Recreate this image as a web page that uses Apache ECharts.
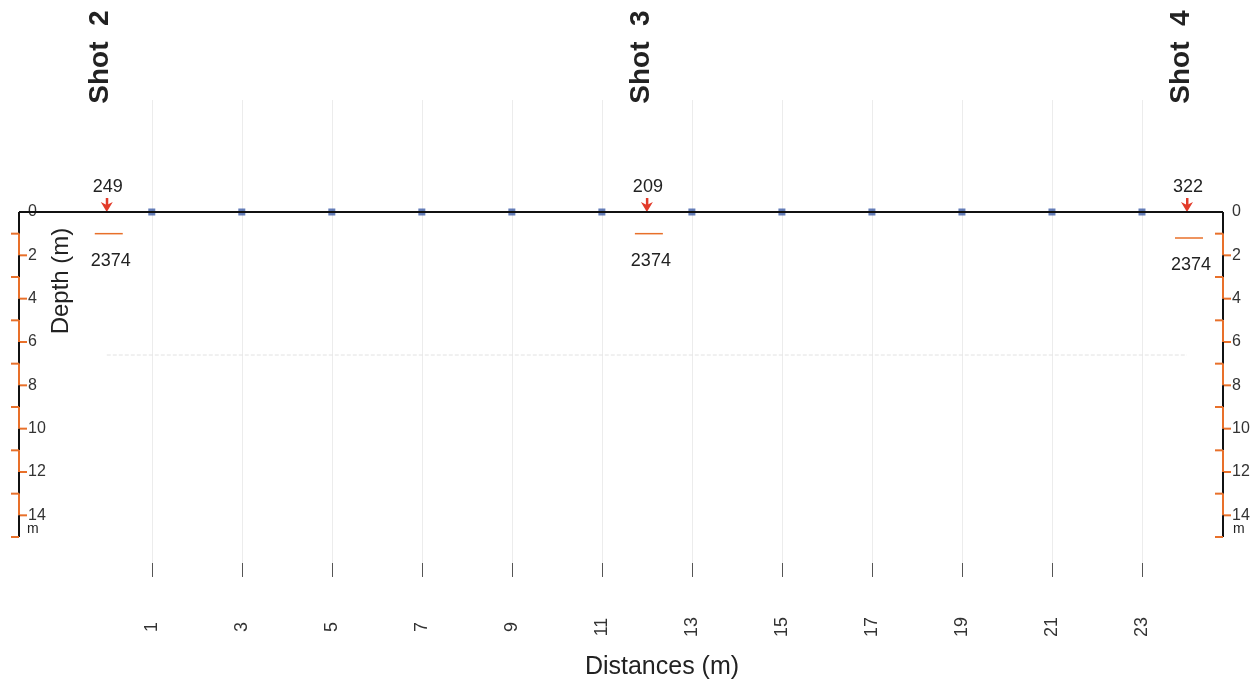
<!DOCTYPE html>
<html>
<head>
<meta charset="utf-8">
<script src="https://cdn.jsdelivr.net/npm/echarts@6/dist/echarts.min.js"></script>
<style>
  html, body { margin: 0; padding: 0; background: #fff; }
  #chart { width: 1255px; height: 686px; }
</style>
</head>
<body>
<div id="chart"></div>
<script>
// distance range of the section (m)
const XMIN = -1.95;
const XMAX = 24.8;
const DEPTH_MAX = 15;

const distanceLabels = ["1", "3", "5", "7", "9", "11", "13", "15", "17", "19", "21", "23"];
const geophoneX = [1, 3, 5, 7, 9, 11, 13, 15, 17, 19, 21, 23];
const depthTicks = [0, 2, 4, 6, 8, 10, 12, 14];
const depthSegments = [0, 1, 2, 3, 4, 5, 6, 7, 8, 9, 10, 11, 12, 13, 14];

const shotNames = ["Shot  2", "Shot  3", "Shot  4"];
const shotX = [0, 12, 24];
const topVelocity = [249, 209, 322];
const interfaceDepth = [1.0, 1.0, 1.2];
const bottomVelocity = [2374, 2374, 2374];

const faintLineDepth = 6.6;

const ORANGE = "#e8702a";
const DARK = "#222";
const FONT = "Liberation Sans, Arial, sans-serif";

const shotData = shotX.map((x, i) => [x, 0, interfaceDepth[i], topVelocity[i], bottomVelocity[i], shotNames[i]]);

function renderShot(params, api) {
  const x = api.value(0);
  const d = api.value(2);
  const p = api.coord([x, 0]);
  const q = api.coord([x, d]);
  const row = shotData[params.dataIndex];
  return {
    type: "group",
    children: [
      {
        type: "text", x: p[0] - 6, y: p[1] - 155, rotation: Math.PI / 2,
        style: { text: row[5], x: 0, y: 0, align: "center", verticalAlign: "middle",
                 font: "bold 28px " + FONT, fill: DARK }
      },
      {
        type: "text",
        style: { text: String(row[3]), x: p[0] + 1, y: p[1] - 25, align: "center", verticalAlign: "middle",
                 font: "18px " + FONT, fill: DARK }
      },
      {
        type: "rect",
        shape: { x: p[0] - 1, y: p[1] - 14, width: 2.5, height: 8 },
        style: { fill: "#e23b2a" }
      },
      {
        type: "polygon",
        shape: { points: [[p[0], p[1]], [p[0] - 6, p[1] - 10], [p[0], p[1] - 7], [p[0] + 6, p[1] - 10]] },
        style: { fill: "#e23b2a" }
      },
      {
        type: "line",
        shape: { x1: q[0] - 12, y1: q[1], x2: q[0] + 16, y2: q[1] },
        style: { stroke: ORANGE, lineWidth: 1.5 }
      },
      {
        type: "text",
        style: { text: String(row[4]), x: q[0] + 4, y: q[1] + 27, align: "center", verticalAlign: "middle",
                 font: "18px " + FONT, fill: DARK }
      }
    ]
  };
}

function scaleBar(unitDx) {
  return function (params, api) {
    const x = api.value(0);
    const d = api.value(1);
    const p0 = api.coord([x, d]);
    const p1 = api.coord([x, d + 1]);
    const children = [
      {
        type: "line",
        shape: { x1: p0[0], y1: p0[1], x2: p1[0], y2: p1[1] },
        style: { stroke: d % 2 === 0 ? "#111" : ORANGE, lineWidth: 2 }
      }
    ];
    const odd = (d + 1) % 2 === 1;
    children.push({
      type: "line",
      shape: odd ? { x1: p1[0] - 8, y1: p1[1], x2: p1[0], y2: p1[1] }
                 : { x1: p1[0], y1: p1[1], x2: p1[0] + 8, y2: p1[1] },
      style: { stroke: ORANGE, lineWidth: 2 }
    });
    if (d === depthSegments[depthSegments.length - 1]) {
      const m = api.coord([x, 14.65]);
      children.push({
        type: "text",
        style: { text: "m", x: m[0] + unitDx, y: m[1], align: "left", verticalAlign: "middle",
                 font: "14px " + FONT, fill: DARK }
      });
    }
    return { type: "group", children: children };
  };
}

const depthLabel = {
  fontSize: 16, color: "#333", fontFamily: FONT, margin: 9,
  formatter: v => (depthTicks.indexOf(v) >= 0 ? String(v) : "")
};

const chart = echarts.init(document.getElementById("chart"));
chart.setOption({
  animation: false,
  backgroundColor: "#fff",
  grid: [
    { left: 19, right: 32, top: 212, height: 325 },
    { left: 152, right: 113, top: 100, height: 463 }
  ],
  xAxis: [
    { type: "value", gridIndex: 0, min: XMIN, max: XMAX, show: false },
    {
      type: "category", gridIndex: 1, data: distanceLabels, boundaryGap: false,
      axisLine: { show: false },
      axisTick: { show: true, length: 14, lineStyle: { color: "#555", width: 1 } },
      axisLabel: { rotate: 90, align: "center", verticalAlign: "middle", margin: 64,
                   fontSize: 18, color: "#333", fontFamily: FONT },
      splitLine: { show: true, lineStyle: { color: "#ececec", width: 1 } }
    }
  ],
  yAxis: [
    {
      type: "value", gridIndex: 0, position: "left", inverse: true, min: 0, max: DEPTH_MAX, interval: 2,
      axisLine: { show: false }, axisTick: { show: false }, splitLine: { show: false },
      axisLabel: Object.assign({ inside: true, showMaxLabel: false }, depthLabel)
    },
    {
      type: "value", gridIndex: 0, position: "right", inverse: true, min: 0, max: DEPTH_MAX, interval: 2,
      axisLine: { show: false }, axisTick: { show: false }, splitLine: { show: false },
      axisLabel: Object.assign({ inside: false, showMaxLabel: false }, depthLabel)
    },
    { type: "value", gridIndex: 1, min: 0, max: 1, show: false }
  ],
  graphic: [
    {
      type: "text", x: 61, y: 281, rotation: Math.PI / 2,
      style: { text: "Depth (m)", x: 0, y: 0, align: "center", verticalAlign: "middle",
               font: "24px " + FONT, fill: DARK }
    },
    {
      type: "text",
      style: { text: "Distances (m)", x: 662, y: 667, align: "center", verticalAlign: "middle",
               font: "25px " + FONT, fill: DARK }
    }
  ],
  series: [
    {
      type: "line", xAxisIndex: 0, yAxisIndex: 0, silent: true, symbol: "none",
      data: [[shotX[0], faintLineDepth], [shotX[2], faintLineDepth]],
      lineStyle: { color: "#e2e2e2", width: 1, type: "dashed" }
    },
    {
      type: "custom", xAxisIndex: 0, yAxisIndex: 0, silent: true,
      data: depthSegments.map(d => [XMIN, d]),
      renderItem: scaleBar(8)
    },
    {
      type: "custom", xAxisIndex: 0, yAxisIndex: 1, silent: true,
      data: depthSegments.map(d => [XMAX, d]),
      renderItem: scaleBar(10)
    },
    {
      type: "line", xAxisIndex: 0, yAxisIndex: 0, silent: true, symbol: "none", clip: false,
      data: [[XMIN, 0], [XMAX, 0]],
      lineStyle: { color: "#111", width: 2 }
    },
    {
      type: "scatter", xAxisIndex: 0, yAxisIndex: 0, silent: true, clip: false,
      symbol: "rect", symbolSize: 7,
      data: geophoneX.map(x => [x, 0]),
      itemStyle: { color: "#3f5ea8" }
    },
    {
      type: "custom", xAxisIndex: 0, yAxisIndex: 0, silent: true,
      data: shotData,
      encode: { x: 0, y: 1 },
      renderItem: renderShot
    }
  ]
});
</script>
</body>
</html>
